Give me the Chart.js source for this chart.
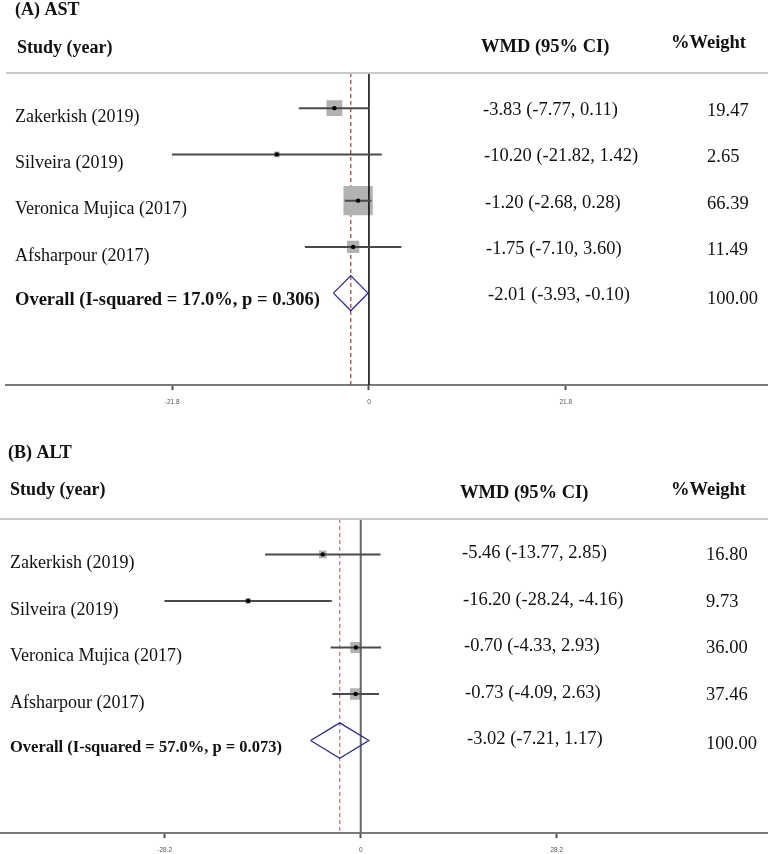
<!DOCTYPE html>
<html>
<head>
<meta charset="utf-8">
<script src="https://cdn.jsdelivr.net/npm/chart.js@4.4.1/dist/chart.umd.min.js"></script>
<style>
  body { margin: 0; background: #fff; overflow: hidden; }
  .panel { position: relative; width: 768px; }
</style>
</head>
<body>
<div class="panel" style="height:440px"><canvas id="astChart"></canvas></div>
<div class="panel" style="height:422px"><canvas id="altChart"></canvas></div>
<script>
// (A) AST
const astStudies = ['Zakerkish (2019)', 'Silveira (2019)', 'Veronica Mujica (2017)', 'Afsharpour (2017)'];
const astEst = [-3.83, -10.20, -1.20, -1.75];
const astLow = [-7.77, -21.82, -2.68, -7.10];
const astHigh = [0.11, 1.42, 0.28, 3.60];
const astWeight = [19.47, 2.65, 66.39, 11.49];
const astOverall = [-2.01, -3.93, -0.10];
const astOverallLabel = 'Overall (I-squared = 17.0%, p = 0.306)';
const astTicks = [-21.8, 0, 21.8];

// (B) ALT
const altStudies = ['Zakerkish (2019)', 'Silveira (2019)', 'Veronica Mujica (2017)', 'Afsharpour (2017)'];
const altEst = [-5.46, -16.20, -0.70, -0.73];
const altLow = [-13.77, -28.24, -4.33, -4.09];
const altHigh = [2.85, -4.16, 2.93, 2.63];
const altWeight = [16.80, 9.73, 36.00, 37.46];
const altOverall = [-3.02, -7.21, 1.17];
const altOverallLabel = 'Overall (I-squared = 57.0%, p = 0.073)';
const altTicks = [-28.2, 0, 28.2];

const Y_MAX = 6.75;
const rowY = i => 0.76 + i;
const SERIF = '"Liberation Serif", "Times New Roman", serif';

function fmt(v) { return v.toFixed(2); }

function forestChart(id, d, s) {
  const n = d.studies.length;
  const ciSets = d.est.map((e, i) => ({
    data: [{ x: d.low[i], y: rowY(i) }, { x: d.high[i], y: rowY(i) }],
    showLine: true, borderColor: '#4a4a4a', borderWidth: 2, pointRadius: 0, order: 1
  }));
  const ov = d.overall;
  const oy = rowY(n);
  const datasets = [
    { // point estimates
      data: d.est.map((e, i) => ({ x: e, y: rowY(i) })),
      pointRadius: 2.2, backgroundColor: '#000', borderWidth: 0, order: 0
    },
    ...ciSets,
    { // zero line
      data: [{ x: 0, y: 0 }, { x: 0, y: Y_MAX }],
      showLine: true, borderColor: s.zeroColor, borderWidth: s.zeroWidth, pointRadius: 0, order: 1
    },
    { // weight boxes
      data: d.est.map((e, i) => ({ x: e, y: rowY(i) })),
      pointStyle: 'rect', borderWidth: 0, backgroundColor: '#b2b2b2',
      pointRadius: d.weight.map(w => s.boxScale * Math.sqrt(w) / Math.SQRT2), order: 2
    },
    { // overall estimate dashed line
      data: [{ x: ov[0], y: 0 }, { x: ov[0], y: Y_MAX }],
      showLine: true, borderColor: s.dashColor, borderWidth: 1.2, borderDash: [4, 3], pointRadius: 0, order: 3
    },
    { // overall diamond
      data: [{ x: ov[1], y: oy }, { x: ov[0], y: oy - 0.38 }, { x: ov[2], y: oy },
             { x: ov[0], y: oy + 0.38 }, { x: ov[1], y: oy }],
      showLine: true, borderColor: '#2b2b96', borderWidth: 1.3, pointRadius: 0, order: 0
    }
  ];

  const textPlugin = {
    id: 'forestText',
    afterDraw(chart) {
      const ctx = chart.ctx;
      const ys = chart.scales.y;
      const area = chart.chartArea;
      ctx.save();
      // header rule
      ctx.strokeStyle = '#c9c9c9';
      ctx.lineWidth = 2;
      ctx.beginPath();
      ctx.moveTo(area.left, area.top);
      ctx.lineTo(area.right, area.top);
      ctx.stroke();

      ctx.fillStyle = '#111';
      ctx.textBaseline = 'middle';
      ctx.textAlign = 'left';
      ctx.font = 'bold 18px ' + SERIF;
      ctx.fillText(d.title, s.titleX, s.titleY);
      ctx.fillText('Study (year)', s.titleX + 2, s.headY);
      ctx.font = 'bold 18.5px ' + SERIF;
      ctx.fillText('WMD (95% CI)', s.wmdX, s.headY + s.wmdHeadDy);
      ctx.fillText('%Weight', 671, s.headY + s.wHeadDy);

      d.studies.forEach((name, i) => {
        const py = ys.getPixelForValue(rowY(i));
        ctx.font = '18px ' + SERIF;
        ctx.fillText(name, s.labelX, py + 9);
        ctx.font = '18.5px ' + SERIF;
        ctx.fillText(fmt(d.est[i]) + ' (' + fmt(d.low[i]) + ', ' + fmt(d.high[i]) + ')', s.wmdX + 2 + i, py + s.valDy);
        ctx.fillText(fmt(d.weight[i]), s.weightX, py + s.weightDy);
      });
      const py = ys.getPixelForValue(oy);
      ctx.fillText(fmt(ov[0]) + ' (' + fmt(ov[1]) + ', ' + fmt(ov[2]) + ')', s.wmdX + 7, py + s.valDy);
      ctx.fillText('100.00', s.weightX, py + s.weightDy + 3);
      ctx.font = 'bold ' + s.overallSize + 'px ' + SERIF;
      ctx.fillText(d.overallLabel, s.labelX, py + 7);
      ctx.restore();
    }
  };

  return new Chart(document.getElementById(id), {
    type: 'scatter',
    data: { datasets },
    options: {
      responsive: true,
      maintainAspectRatio: false,
      animation: false,
      layout: { autoPadding: false, padding: { top: s.top, left: s.left, right: 0, bottom: s.bottom } },
      plugins: { legend: { display: false }, tooltip: { enabled: false } },
      scales: {
        x: {
          type: 'linear', min: s.xMin, max: s.xMax,
          afterBuildTicks: sc => { sc.ticks = d.ticks.map(v => ({ value: v })); },
          border: { display: true, color: '#7a7a7a', width: 2 },
          grid: { drawOnChartArea: false, drawTicks: true, tickLength: 5, tickWidth: 2, color: '#555' },
          ticks: { font: { size: 6.5, family: 'Arial' }, color: '#555', padding: 8,
                   callback: v => String(v) }
        },
        y: { type: 'linear', display: false, reverse: true, min: 0, max: Y_MAX }
      }
    },
    plugins: [textPlugin]
  });
}

forestChart('astChart', {
  title: '(A) AST', studies: astStudies, est: astEst, low: astLow, high: astHigh,
  weight: astWeight, overall: astOverall, overallLabel: astOverallLabel, ticks: astTicks
}, {
  top: 73, bottom: 26, left: 6, xMin: -40.2, xMax: 44.2,
  zeroColor: '#111', zeroWidth: 1.6, dashColor: '#a83a3a', boxScale: 3.6,
  titleX: 15, titleY: 10, headY: 48, wmdHeadDy: -1, wHeadDy: -5, wmdX: 481,
  labelX: 15, valDy: 2, weightX: 707, weightDy: 3, overallSize: 18.5
});

forestChart('altChart', {
  title: '(B) ALT', studies: altStudies, est: altEst, low: altLow, high: altHigh,
  weight: altWeight, overall: altOverall, overallLabel: altOverallLabel, ticks: altTicks
}, {
  top: 79, bottom: 0, left: 0, xMin: -51.9, xMax: 58.6,
  zeroColor: '#666', zeroWidth: 2, dashColor: '#c27070', boxScale: 1.85,
  titleX: 8, titleY: 13, headY: 50, wmdHeadDy: 3, wHeadDy: 0, wmdX: 460,
  labelX: 10, valDy: -1, weightX: 706, weightDy: 1, overallSize: 16.5
});
</script>
</body>
</html>
